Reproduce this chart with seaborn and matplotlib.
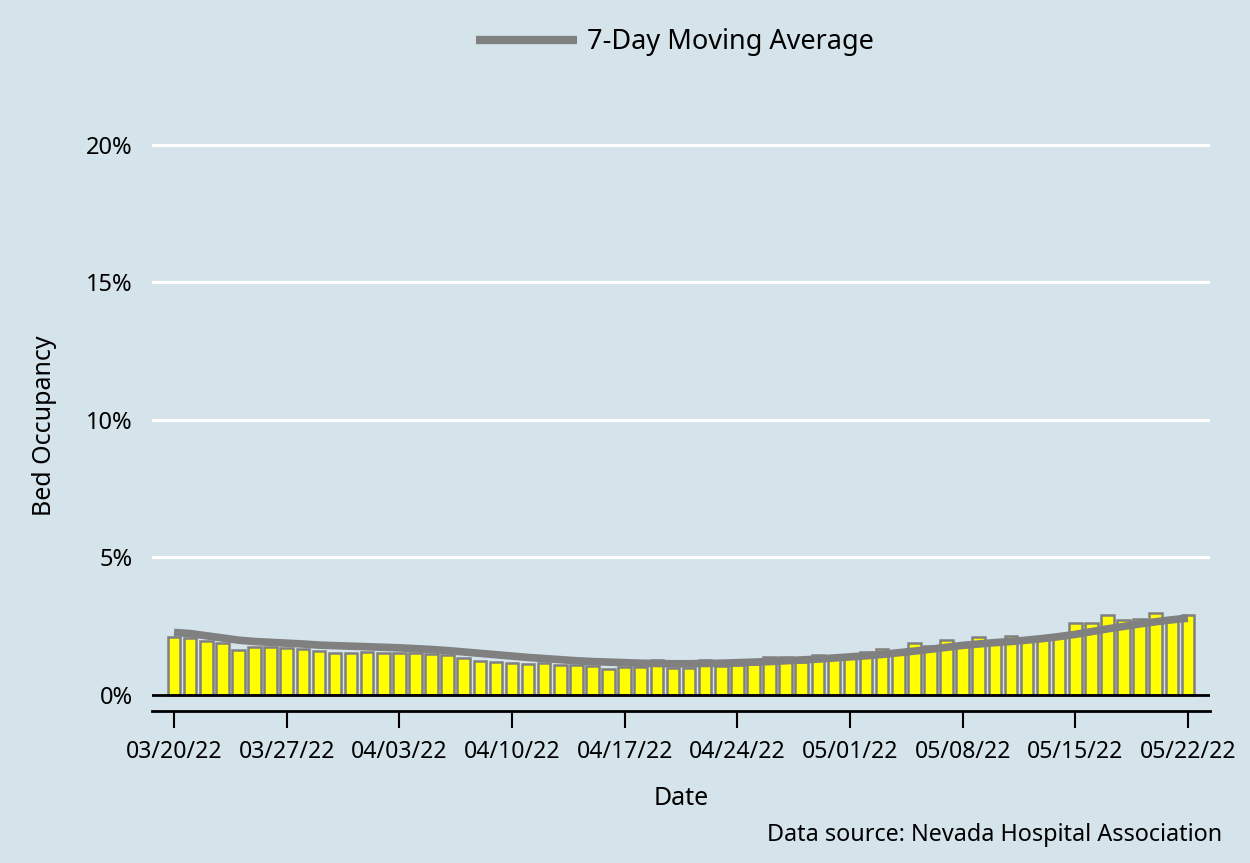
import matplotlib
matplotlib.use("Agg")
import matplotlib.pyplot as plt
import numpy as np
import pandas as pd
import seaborn as sns

# daily bed occupancy (%) from 03/20/22 to 05/22/22
dates = pd.date_range("2022-03-20", "2022-05-22", freq="D")
occupancy = [
    2.10, 2.04, 1.96, 1.88, 1.62, 1.74, 1.74, 1.70, 1.67, 1.59,
    1.53, 1.50, 1.56, 1.53, 1.52, 1.50, 1.46, 1.43, 1.32, 1.23,
    1.19, 1.16, 1.11, 1.15, 1.08, 1.06, 1.03, 0.93, 0.99, 0.99,
    1.25, 0.95, 0.95, 1.25, 1.05, 1.07, 1.10, 1.38, 1.38, 1.20,
    1.44, 1.30, 1.35, 1.55, 1.66, 1.55, 1.86, 1.78, 1.97, 1.85,
    2.08, 1.90, 2.12, 1.98, 2.05, 2.12, 2.60, 2.60, 2.88, 2.70,
    2.76, 2.96, 2.72, 2.88,
]
moving_avg = [
    2.26, 2.22, 2.14, 2.06, 1.98, 1.93, 1.90, 1.87, 1.84, 1.80,
    1.78, 1.76, 1.74, 1.72, 1.70, 1.67, 1.64, 1.60, 1.55, 1.50,
    1.45, 1.40, 1.35, 1.31, 1.27, 1.23, 1.20, 1.18, 1.16, 1.14,
    1.13, 1.12, 1.12, 1.13, 1.14, 1.16, 1.18, 1.20, 1.23, 1.26,
    1.29, 1.33, 1.37, 1.41, 1.46, 1.52, 1.58, 1.65, 1.72, 1.79,
    1.84, 1.89, 1.93, 1.98, 2.04, 2.11, 2.19, 2.29, 2.39, 2.48,
    2.57, 2.65, 2.72, 2.78,
]
y_ticks = [0, 5, 10, 15, 20]

df = pd.DataFrame({"day": np.arange(len(dates)), "occ": occupancy, "ma": moving_avg})

bg = "#d5e4eb"
sns.set_style("white")
plt.rcParams["font.family"] = ["Noto Sans", "DejaVu Sans"]
plt.rcParams["text.color"] = "black"
plt.rcParams["axes.labelcolor"] = "black"
plt.rcParams["xtick.color"] = "black"
plt.rcParams["ytick.color"] = "black"

fig = plt.figure(figsize=(12.5, 8.63), dpi=100, facecolor=bg)
ax = fig.add_axes([0.1216, 0.1761, 0.8464, 0.6622])
ax.set_facecolor(bg)

# white grid lines + black zero line
for t in y_ticks[1:]:
    ax.axhline(t, color="white", lw=2.2, zorder=0)
ax.axhline(0, color="black", lw=2, zorder=3)

sns.barplot(data=df, x="day", y="occ", color="#ffff00", saturation=1,
            edgecolor="#808080", linewidth=1.8, width=0.78, ax=ax, zorder=2)
sns.lineplot(data=df, x="day", y="ma", color="#808080", lw=5.5, ax=ax,
             label="7-Day Moving Average", zorder=4, solid_capstyle="butt")

ax.set_xlim(-1.37, 64.37)
ax.set_ylim(-0.6, 20.2)
tick_pos = list(range(0, len(dates), 7))
ax.set_xticks(tick_pos)
ax.set_xticklabels([dates[i].strftime("%m/%d/%y") for i in tick_pos], fontsize=16.6)
ax.set_yticks(y_ticks)
ax.set_yticklabels([f"{t}%" for t in y_ticks], fontsize=17)

for s in ["top", "right", "left"]:
    ax.spines[s].set_visible(False)
ax.spines["bottom"].set_color("black")
ax.spines["bottom"].set_linewidth(2)
ax.tick_params(axis="x", length=12, width=1.5, color="black", pad=9, direction="out", bottom=True)
ax.tick_params(axis="y", length=0, pad=14)

ax.set_xlabel("Date", fontsize=18, labelpad=16)
ax.set_ylabel("Bed Occupancy", fontsize=18, labelpad=21)

leg = ax.legend(loc="center", bbox_to_anchor=(0.54, 0.951), bbox_transform=fig.transFigure,
                frameon=False, fontsize=19.5, handlelength=3.7, handletextpad=0.37)
for h in leg.get_lines():
    h.set_solid_capstyle("butt")
    h.set_linewidth(6)

fig.text(0.9776, 0.0324, "Data source: Nevada Hospital Association", ha="right",
         va="center", fontsize=16.8)

fig.savefig("out.png", dpi=100, facecolor=bg)
